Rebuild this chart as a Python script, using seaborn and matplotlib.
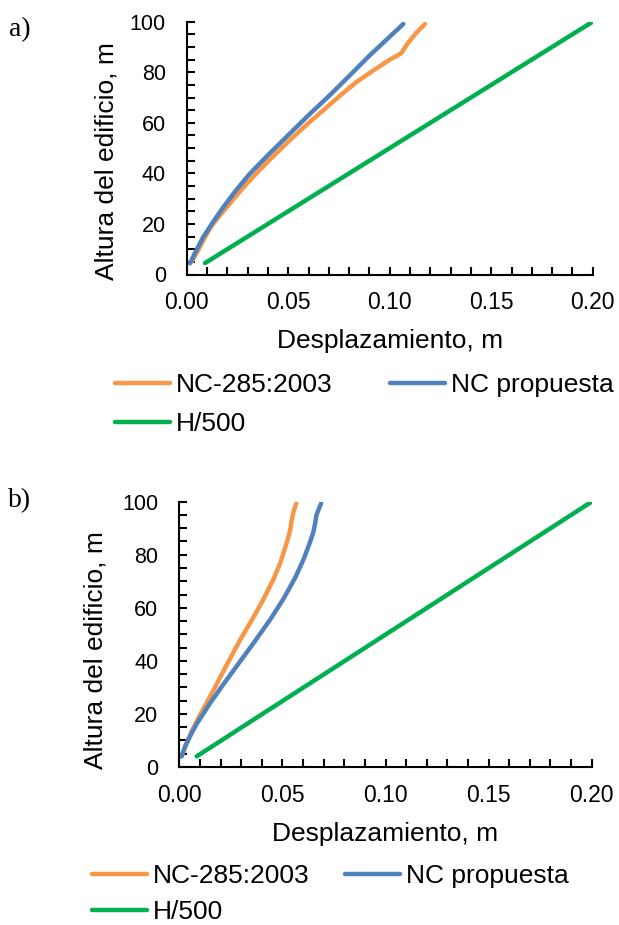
import numpy as np
import pandas as pd
import matplotlib
matplotlib.use("Agg")
import matplotlib.pyplot as plt
import seaborn as sns
from matplotlib.ticker import MultipleLocator, FormatStrFormatter

sns.set_style("white")
plt.rcParams['font.family'] = ['Liberation Sans', 'DejaVu Sans']
plt.rcParams['text.color'] = 'black'
plt.rcParams['axes.labelcolor'] = 'black'
plt.rcParams['xtick.color'] = 'black'
plt.rcParams['ytick.color'] = 'black'

# Panel a) - displacement (m) vs building height (m)
a_nc285_x = [0.0025, 0.0057, 0.0090, 0.0125, 0.0170, 0.0213, 0.0270, 0.0328, 0.0410, 0.0509, 0.0590,
             0.0673, 0.0755, 0.0837, 0.0925, 0.1002, 0.1035, 0.1059, 0.1075, 0.1092, 0.1130, 0.1174]
a_nc285_y = [5.1, 9.7, 14.8, 19.5, 24.0, 28.1, 33.6, 38.7, 45.5, 53.2, 59.2,
             65.0, 70.7, 76.2, 81.0, 85.1, 86.5, 87.7, 89.8, 91.8, 95.5, 99.1]
a_prop_x = [0.0016, 0.0040, 0.0080, 0.0130, 0.0180, 0.0240, 0.0310, 0.0400, 0.0510, 0.0600,
            0.0706, 0.0800, 0.0903, 0.0990, 0.1067]
a_prop_y = [4.4, 8.4, 14.6, 20.8, 26.6, 33.0, 39.8, 47.2, 55.9, 63.0,
            71.0, 78.5, 86.8, 93.3, 99.1]
a_h500_x = [0.0090, 0.2000]
a_h500_y = [4.5, 100.0]

# Panel b)
b_nc285_x = [0.0011, 0.0030, 0.0060, 0.0100, 0.0166, 0.0230, 0.0295, 0.0360, 0.0410, 0.0458,
             0.0490, 0.0515, 0.0530, 0.0538, 0.0545, 0.0555, 0.0568]
b_nc285_y = [4.0, 8.0, 13.5, 19.5, 29.0, 38.5, 47.9, 56.5, 63.5, 71.0,
             77.0, 83.0, 87.0, 89.5, 93.0, 96.5, 99.4]
b_prop_x = [0.0011, 0.0030, 0.0060, 0.0084, 0.0149, 0.0214, 0.0295, 0.0360, 0.0442, 0.0506,
            0.0563, 0.0604, 0.0635, 0.0650, 0.0658, 0.0665, 0.0688]
b_prop_y = [4.0, 8.0, 12.8, 16.2, 24.0, 31.2, 39.8, 46.7, 55.7, 63.5,
            71.5, 78.5, 85.0, 88.5, 91.5, 95.0, 99.4]
b_h500_x = [0.0084, 0.2000]
b_h500_y = [4.0, 100.0]

labels = ["NC-285:2003", "NC propuesta", "H/500"]
colors = {"NC-285:2003": "#F79646", "NC propuesta": "#4F81BD", "H/500": "#00B050"}

W, H = 619, 925
fig = plt.figure(figsize=(W / 100, H / 100), dpi=100)
ax1 = fig.add_axes([186.7 / W, (H - 274.5) / H, 406 / W, 252.8 / H])
ax2 = fig.add_axes([179.3 / W, (H - 767.0) / H, 412.4 / W, 265.3 / H])


def draw(ax, series):
    for lab, xs, ys in series:
        df = pd.DataFrame({"x": xs, "y": ys})
        sns.lineplot(data=df, x="x", y="y", ax=ax, sort=False, color=colors[lab],
                     lw=3.2, label=lab, legend=False)
    ax.set_xlim(0, 0.2)
    ax.set_ylim(0, 100)
    ax.xaxis.set_major_locator(MultipleLocator(0.05))
    ax.xaxis.set_minor_locator(MultipleLocator(0.01))
    ax.xaxis.set_major_formatter(FormatStrFormatter("%.2f"))
    ax.yaxis.set_major_locator(MultipleLocator(20))
    ax.yaxis.set_minor_locator(MultipleLocator(5))
    ax.tick_params(which="both", direction="in", length=6, width=1.5, color="black",
                   bottom=True, left=True, top=False, right=False)
    ax.tick_params(axis="x", which="major", labelsize=16.5, pad=12)
    ax.tick_params(axis="y", which="major", labelsize=15.5, pad=15)
    for s in ["top", "right"]:
        ax.spines[s].set_visible(False)
    for s in ["left", "bottom"]:
        ax.spines[s].set_color("black")
        ax.spines[s].set_linewidth(1.5)
    ax.set_xlabel("Desplazamiento, m", fontsize=19, labelpad=11)
    ax.set_ylabel("Altura del edificio, m", fontsize=19)
    ax.grid(False)


draw(ax1, [("NC-285:2003", a_nc285_x, a_nc285_y),
           ("NC propuesta", a_prop_x, a_prop_y),
           ("H/500", a_h500_x, a_h500_y)])
draw(ax2, [("NC-285:2003", b_nc285_x, b_nc285_y),
           ("NC propuesta", b_prop_x, b_prop_y),
           ("H/500", b_h500_x, b_h500_y)])

ax1.yaxis.set_label_coords(-0.167, 0.45)
ax2.yaxis.set_label_coords(-0.173, 0.439)

# legends: filled column-wise, so reorder to get two entries on the first row
for ax, x0, yc, cs, ls in [(ax1, 115, 404.7, 2.18, 0.55), (ax2, 92, 894.2, 1.35, 0.45)]:
    h, l = ax.get_legend_handles_labels()
    order = [0, 2, 1]
    fig.legend([h[i] for i in order], [l[i] for i in order], ncol=2,
               loc="center left", bbox_to_anchor=(x0 / W, 1 - yc / H),
               frameon=False, fontsize=19, handlelength=2.1, handletextpad=0.2,
               columnspacing=cs, labelspacing=ls, borderpad=0, borderaxespad=0)

fig.text(9 / W, 1 - 36 / H, "a)", fontsize=20, family="Liberation Serif")
fig.text(8 / W, 1 - 507 / H, "b)", fontsize=20, family="Liberation Serif")

fig.savefig("out.png", dpi=100)
